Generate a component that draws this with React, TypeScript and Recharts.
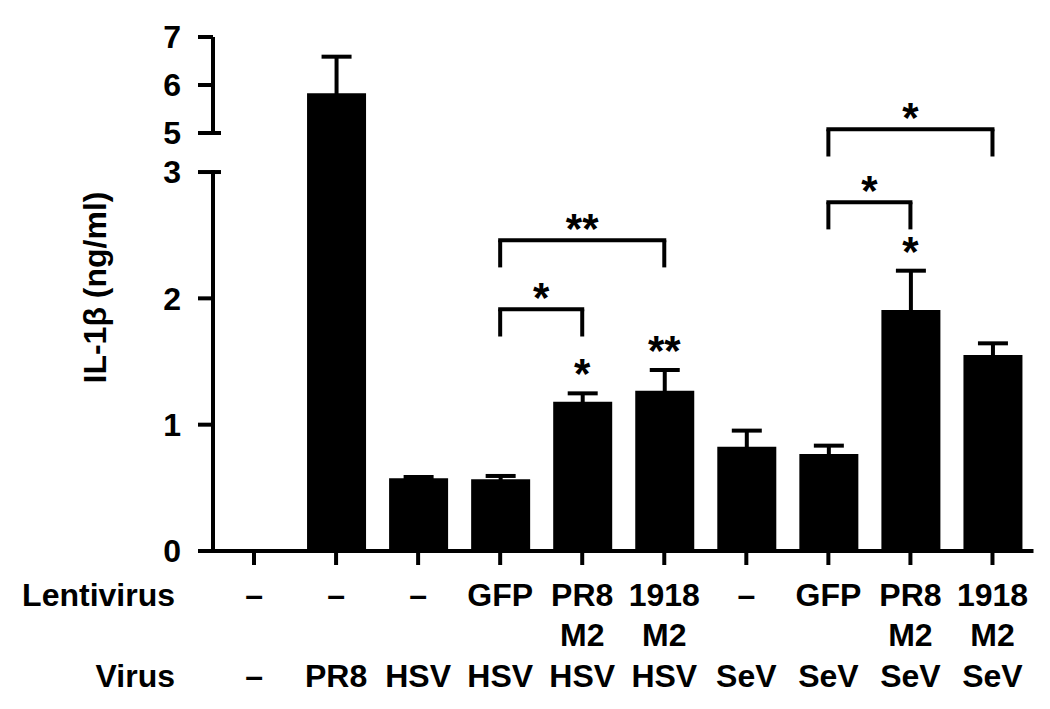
import { Bar, BarChart, ErrorBar, ReferenceDot, ReferenceLine, XAxis, YAxis } from 'recharts';

// categories (unique keys) and the two rows of x labels
const groups = ['g0', 'g1', 'g2', 'g3', 'g4', 'g5', 'g6', 'g7', 'g8', 'g9'];
const lentivirus = ['–', '–', '–', 'GFP', 'PR8', '1918', '–', 'GFP', 'PR8', '1918'];
const lentivirusLine2 = ['', '', '', '', 'M2', 'M2', '', '', 'M2', 'M2'];
const virus = ['–', 'PR8', 'HSV', 'HSV', 'HSV', 'HSV', 'SeV', 'SeV', 'SeV', 'SeV'];

// IL-1b in ng/ml, mean and SEM
const means = [0, 5.83, 0.575, 0.568, 1.182, 1.269, 0.826, 0.768, 1.908, 1.551];
const sems = [0, 0.76, 0.011, 0.026, 0.066, 0.164, 0.127, 0.066, 0.311, 0.093];

// significance marks above single bars
const barStars = ['', '', '', '', '*', '**', '', '', '*', ''];

// comparison brackets: group index from/to, height of bracket (ng/ml)
const brackets = [
  { from: 3, to: 4, y: 1.913, label: '*' },
  { from: 3, to: 5, y: 2.46, label: '**' },
  { from: 7, to: 8, y: 2.761, label: '*' },
  { from: 7, to: 9, y: 3.338, label: '*' },
];

const lowerTicks = [0, 1, 2, 3];
const upperTicks = [5, 6, 7];
const breakTicks = [3, 5];

const data = groups.map((id, i) => ({ id, mean: means[i], sem: sems[i] }));

const FONT = "'Liberation Sans', Arial, Helvetica, sans-serif";
const W = 1050;
const PLOT_LEFT = 213;
const PLOT_RIGHT = 1033.5;
const Y_AXIS_W = 80;
const TICK = 15;
const TICK_GAP = 17;
const LOWER_MAX = 3.309; // leaves room for the axis break above 3
const LEG = 0.215;
const AXIS = { stroke: '#000', strokeWidth: 4 };
const margins = { right: W - PLOT_RIGHT, left: PLOT_LEFT - Y_AXIS_W };

// one-sided error bars: the lower cap is tucked inside the bar so it stays hidden
const upperErr = (d: any) => (d.mean > 3 ? [0.1, d.sem] : undefined);
const lowerErr = (d: any) => (d.sem > 0 ? [0.04, d.sem] : undefined);

const YTick = (props: any) => {
  const { x, y, payload } = props;
  const axisX = x + TICK + TICK_GAP;
  return (
    <g>
      {breakTicks.includes(payload.value) ? (
        <line x1={axisX} x2={axisX + 8} y1={y} y2={y} stroke="#000" strokeWidth={4} />
      ) : null}
      <text x={x} y={y} dy="0.355em" textAnchor="end" fontFamily={FONT} fontWeight="bold" fontSize={32} fill="#000">
        {payload.value}
      </text>
    </g>
  );
};

const XTick = (props: any) => {
  const { x, y, payload } = props;
  const i = groups.indexOf(payload.value);
  return (
    <g fontFamily={FONT} fontWeight="bold" fontSize={32} fill="#000">
      <text x={x} y={y + 41} textAnchor="middle">{lentivirus[i]}</text>
      <text x={x} y={y + 81} textAnchor="middle">{lentivirusLine2[i]}</text>
      <text x={x} y={y + 122} textAnchor="middle">{virus[i]}</text>
      {i === 0 ? (
        <>
          <text x={175} y={y + 41} textAnchor="end">Lentivirus</text>
          <text x={175} y={y + 122} textAnchor="end">Virus</text>
        </>
      ) : null}
    </g>
  );
};

const YTitle = () => (
  <text
    transform="translate(106, 287.5) rotate(-90)"
    textAnchor="middle"
    fontFamily={FONT}
    fontWeight="bold"
    fontSize={32}
    fill="#000"
  >
    IL-1β (ng/ml)
  </text>
);

const starStyle = { fontSize: 42, fontWeight: 'bold', fill: '#000', fontFamily: FONT };

export default function App() {
  const annotations: any[] = [];
  brackets.forEach((b, k) => {
    const a = groups[b.from];
    const c = groups[b.to];
    annotations.push(
      <ReferenceLine
        key={`bh${k}`}
        segment={[{ x: a, y: b.y }, { x: c, y: b.y }]}
        stroke="#000"
        strokeWidth={4}
        strokeLinecap="square"
        ifOverflow="visible"
        label={{ value: b.label, position: 'top', offset: -3, ...starStyle }}
      />,
      <ReferenceLine key={`bl${k}`} segment={[{ x: a, y: b.y }, { x: a, y: b.y - LEG }]} stroke="#000" strokeWidth={4} ifOverflow="visible" />,
      <ReferenceLine key={`br${k}`} segment={[{ x: c, y: b.y }, { x: c, y: b.y - LEG }]} stroke="#000" strokeWidth={4} ifOverflow="visible" />
    );
  });
  barStars.forEach((s, i) => {
    if (!s) return;
    annotations.push(
      <ReferenceDot
        key={`s${i}`}
        x={groups[i]}
        y={means[i] + sems[i]}
        r={0}
        fill="none"
        stroke="none"
        ifOverflow="visible"
        label={{ value: s, position: 'top', offset: 5, ...starStyle }}
      />
    );
  });

  return (
    <div style={{ position: 'absolute', left: 0, top: 0, width: W, height: 709, background: '#fff' }}>
      <div style={{ position: 'absolute', left: 0, top: 0 }}>
        <BarChart width={W} height={160} data={data} margin={{ top: 37, bottom: 27, ...margins }} barSize={59}>
          <XAxis dataKey="id" hide />
          <YAxis
            type="number"
            domain={[5, 7]}
            ticks={upperTicks}
            allowDataOverflow
            width={Y_AXIS_W}
            axisLine={AXIS}
            tickLine={AXIS}
            tickSize={TICK}
            tickMargin={TICK_GAP}
            tick={<YTick />}
            interval={0}
          />
          <Bar dataKey={(d: any) => (d.mean > 3 ? d.mean : null)} fill="#000" isAnimationActive={false}>
            <ErrorBar dataKey={upperErr} width={15} strokeWidth={4} stroke="#000" isAnimationActive={false} />
          </Bar>
        </BarChart>
      </div>
      <div style={{ position: 'absolute', left: 0, top: 0 }}>
        <BarChart width={W} height={709} data={data} margin={{ top: 133, bottom: 0, ...margins }} barSize={59}>
          <XAxis
            dataKey="id"
            height={158}
            axisLine={AXIS}
            tickLine={AXIS}
            tickSize={14}
            tickMargin={0}
            tick={<XTick />}
            interval={0}
          />
          <XAxis xAxisId="edge" type="number" domain={[0, 1]} hide />
          <YAxis
            type="number"
            domain={[0, LOWER_MAX]}
            ticks={lowerTicks}
            allowDataOverflow
            width={Y_AXIS_W}
            axisLine={false}
            tickLine={AXIS}
            tickSize={TICK}
            tickMargin={TICK_GAP}
            tick={<YTick />}
            interval={0}
            label={<YTitle />}
          />
          <ReferenceLine
            xAxisId="edge"
            segment={[{ x: 0, y: 0 }, { x: 0, y: 3 }]}
            stroke="#000"
            strokeWidth={4}
            strokeLinecap="square"
            ifOverflow="visible"
          />
          <Bar dataKey="mean" fill="#000" isAnimationActive={false}>
            <ErrorBar dataKey={lowerErr} width={15} strokeWidth={4} stroke="#000" isAnimationActive={false} />
          </Bar>
          {annotations}
        </BarChart>
      </div>
    </div>
  );
}
